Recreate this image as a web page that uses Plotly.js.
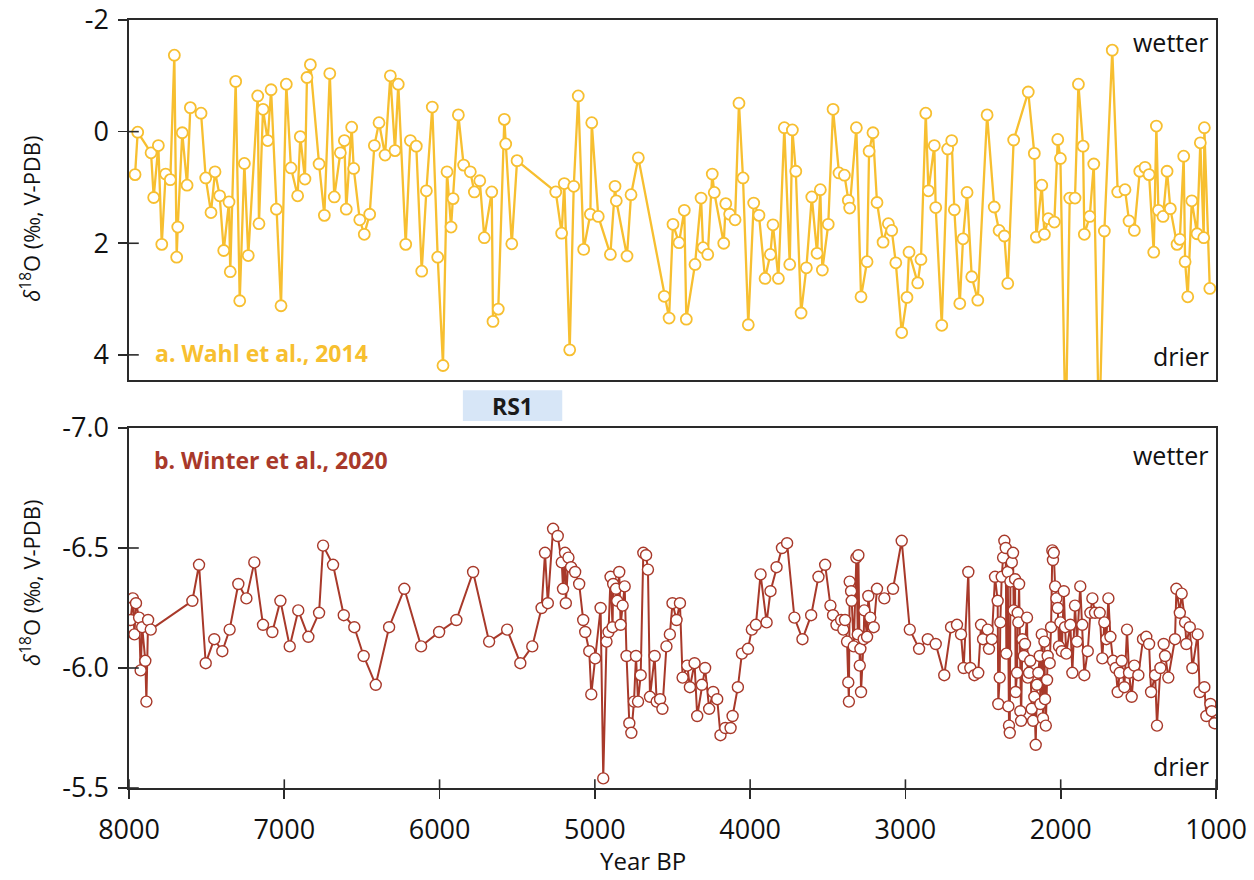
<!DOCTYPE html>
<html><head><meta charset="utf-8">
<script src="https://cdn.plot.ly/plotly-3.0.1.min.js"></script>
<style>body{margin:0;background:#fff}#chart{width:1254px;height:880px}</style>
</head><body><div id="chart"></div>
<script>
// ---- Panel a: Wahl et al., 2014 (Year BP, d18O) ----
const wahlYears = [7961,7944,7858,7841,7811,7789,7764,7734,7708,7693,7686,7657,7626,7605,7536,7506,7472,7446,7416,7390,
 7356,7348,7313,7287,7257,7232,7171,7163,7137,7107,7085,7051,7021,6987,6957,6914,6897,6867,6854,6832,
 6776,6742,6707,6678,6639,6613,6601,6566,6553,6514,6485,6450,6420,6390,6351,6317,6287,6266,6218,6188,
 6150,6115,6085,6047,6012,5978,5952,5926,5913,5879,5845,5802,5776,5741,5712,5664,5656,5622,5583,5574,
 5535,5501,5252,5214,5197,5162,5136,5107,5072,5029,5020,4978,4900,4870,4862,4793,4767,4720,4553,4522,
 4497,4458,4424,4411,4355,4316,4303,4273,4244,4231,4170,4157,4132,4097,4072,4046,4012,3977,3943,3904,
 3870,3853,3818,3780,3745,3728,3706,3672,3638,3603,3569,3548,3535,3497,3466,3428,3393,3368,3359,3316,
 3286,3247,3234,3209,3183,3144,3110,3088,3062,3024,2990,2977,2921,2900,2869,2852,2814,2805,2766,2728,
 2702,2685,2650,2629,2603,2573,2534,2474,2428,2397,2363,2341,2303,2209,2170,2157,2122,2105,2080,2041,
 2019,2002,1968,1942,1908,1886,1856,1848,1813,1787,1753,1719,1668,1633,1586,1560,1526,1491,1457,1431,
 1401,1384,1371,1341,1315,1294,1251,1233,1208,1199,1182,1156,1122,1101,1079,1075,1040];
const wahlD18O = [0.77,0.01,0.38,1.18,0.25,2.02,0.76,0.86,-1.37,2.25,1.71,0.02,0.96,-0.43,-0.33,0.83,1.45,0.72,1.15,2.13,
 1.26,2.51,-0.90,3.03,0.57,2.22,-0.64,1.65,-0.40,0.16,-0.75,1.39,3.12,-0.85,0.65,1.15,0.09,0.85,-0.97,-1.20,
 0.58,1.50,-1.04,1.17,0.38,0.16,1.39,-0.08,0.66,1.58,1.84,1.48,0.25,-0.16,0.42,-1.00,0.34,-0.85,2.02,0.16,
 0.26,2.50,1.06,-0.44,2.25,4.19,0.72,1.71,1.20,-0.30,0.60,0.72,1.08,0.88,1.90,1.08,3.40,3.18,-0.22,0.22,
 2.01,0.52,1.08,1.82,0.93,3.91,0.98,-0.64,2.11,1.48,-0.16,1.52,2.20,0.98,1.24,2.23,1.13,0.47,2.95,3.34,
 1.66,1.99,1.41,3.36,2.38,1.19,2.08,2.20,0.76,1.09,2.00,1.29,1.48,1.58,-0.51,0.83,3.46,1.28,1.50,2.63,
 2.20,1.67,2.63,-0.07,2.38,-0.03,0.71,3.25,2.44,1.17,2.18,1.04,2.48,1.66,-0.40,0.74,0.78,1.23,1.37,-0.07,
 2.96,2.33,0.35,0.02,1.27,1.98,1.65,1.77,2.35,3.60,2.97,2.16,2.71,2.29,-0.33,1.06,0.25,1.36,3.47,0.31,
 0.16,1.40,3.08,1.92,1.09,2.60,3.02,-0.30,1.35,1.77,1.87,2.72,0.15,-0.71,0.39,1.89,0.96,1.84,1.56,1.62,
 0.14,0.48,5.5,1.19,1.19,-0.85,0.26,1.84,1.52,0.58,5.5,1.78,-1.46,1.08,1.04,1.60,1.77,0.71,0.64,0.77,
 2.16,-0.10,1.41,1.52,0.71,1.38,2.02,1.93,0.44,2.33,2.96,1.24,1.83,0.20,1.90,-0.07,2.81];

// ---- Panel b: Winter et al., 2020 (Year BP, d18O) ----
const winterYears = [7990,7975,7965,7955,7935,7925,7915,7895,7888,7877,7860,7592,7549,7506,7451,7399,7352,7296,7244,7193,
 7137,7077,7025,6965,6910,6845,6776,6750,6686,6617,6549,6489,6411,6325,6227,6119,6003,5892,5784,5681,
 5565,5480,5403,5343,5321,5303,5269,5239,5213,5205,5192,5187,5170,5153,5127,5101,5075,5062,5036,5023,
 4998,4963,4946,4925,4912,4899,4886,4882,4864,4856,4843,4834,4821,4808,4796,4778,4765,4748,4735,4722,
 4705,4688,4670,4658,4645,4615,4602,4580,4565,4539,4517,4500,4474,4452,4435,4405,4388,4358,4341,4311,
 4290,4264,4238,4212,4191,4160,4126,4113,4079,4053,4014,3989,3963,3933,3894,3869,3830,3795,3762,3715,
 3663,3607,3560,3517,3483,3466,3444,3414,3400,3389,3376,3368,3364,3359,3350,3346,3333,3316,3307,3303,
 3294,3290,3286,3269,3265,3247,3239,3226,3204,3183,3136,3080,3024,2972,2912,2856,2805,2750,2706,2668,
 2642,2625,2595,2582,2556,2531,2513,2500,2470,2462,2444,2423,2406,2402,2393,2389,2380,2371,2363,2354,
 2350,2341,2337,2333,2328,2324,2315,2307,2303,2294,2290,2281,2277,2273,2268,2260,2255,2247,2238,2230,
 2217,2212,2204,2196,2187,2178,2170,2161,2153,2144,2135,2131,2122,2114,2105,2101,2096,2088,2084,2071,
 2062,2054,2050,2045,2036,2028,2019,2011,2002,1993,1980,1972,1964,1938,1925,1908,1895,1874,1861,1848,
 1826,1809,1796,1779,1749,1732,1719,1706,1693,1680,1663,1646,1633,1620,1607,1590,1573,1560,1543,1526,
 1500,1470,1449,1431,1418,1392,1380,1358,1337,1328,1307,1264,1255,1233,1221,1199,1191,1169,1152,1118,
 1105,1075,1062,1036,1027,1010];
const winterD18O = [-6.20,-6.29,-6.14,-6.27,-6.21,-5.99,-6.17,-6.03,-5.86,-6.20,-6.16,-6.28,-6.43,-6.02,-6.12,-6.07,-6.16,-6.35,-6.29,-6.44,
 -6.18,-6.15,-6.28,-6.09,-6.24,-6.13,-6.23,-6.51,-6.43,-6.22,-6.17,-6.05,-5.93,-6.17,-6.33,-6.09,-6.15,-6.20,-6.40,-6.11,
 -6.16,-6.02,-6.09,-6.25,-6.48,-6.27,-6.58,-6.55,-6.44,-6.33,-6.48,-6.27,-6.46,-6.42,-6.40,-6.35,-6.20,-6.15,-6.07,-5.89,
 -6.04,-6.25,-5.54,-6.11,-6.15,-6.38,-6.17,-6.35,-6.33,-6.28,-6.40,-6.18,-6.26,-6.34,-6.05,-5.77,-5.73,-5.86,-6.05,-5.86,
 -5.97,-6.48,-6.47,-6.41,-5.88,-6.05,-5.86,-5.87,-5.83,-6.09,-6.14,-6.27,-6.20,-6.27,-5.96,-6.01,-5.92,-6.02,-5.80,-5.93,
 -6.00,-5.83,-5.90,-5.87,-5.72,-5.75,-5.75,-5.80,-5.92,-6.06,-6.08,-6.16,-6.18,-6.39,-6.19,-6.32,-6.42,-6.50,-6.52,-6.21,
 -6.12,-6.22,-6.38,-6.43,-6.26,-6.22,-6.18,-6.20,-6.16,-6.20,-6.11,-5.94,-5.86,-6.36,-6.32,-6.28,-6.09,-6.46,-6.14,-6.47,
 -6.01,-6.08,-5.90,-6.12,-6.24,-6.13,-6.30,-6.21,-6.17,-6.33,-6.29,-6.33,-6.53,-6.16,-6.08,-6.12,-6.10,-5.97,-6.17,-6.18,
 -6.14,-6.00,-6.40,-6.00,-5.97,-5.98,-6.18,-6.12,-6.16,-6.08,-6.12,-6.38,-6.28,-5.85,-5.96,-6.19,-6.38,-6.46,-6.53,-6.50,
 -6.06,-6.40,-5.84,-5.76,-5.73,-6.36,-6.44,-6.48,-6.24,-6.37,-5.90,-5.98,-6.23,-6.19,-6.35,-5.82,-5.78,-6.12,-6.05,-6.10,
 -6.21,-5.96,-5.98,-6.03,-5.83,-5.78,-5.88,-5.68,-5.93,-5.98,-6.05,-5.85,-6.14,-5.79,-6.11,-5.87,-5.76,-5.95,-6.05,-6.02,
 -6.17,-6.49,-6.45,-6.48,-6.34,-6.29,-6.25,-6.09,-6.19,-6.07,-6.32,-6.17,-6.06,-6.18,-5.98,-6.26,-6.11,-6.34,-6.18,-5.97,
 -6.07,-6.23,-6.29,-6.23,-6.23,-6.04,-6.19,-6.12,-6.29,-6.13,-6.03,-6.00,-5.90,-5.98,-6.03,-5.92,-6.16,-5.98,-5.88,-6.01,
 -5.97,-6.12,-6.13,-6.10,-5.90,-5.97,-5.76,-6.00,-6.10,-6.05,-5.96,-6.12,-6.33,-6.23,-6.31,-6.19,-6.10,-6.17,-6.00,-6.14,
 -5.90,-5.92,-5.80,-5.85,-5.82,-5.77];

// ---- Axis ticks and labels ----
const xTickVals = [8000,7000,6000,5000,4000,3000,2000,1000];
const topYTicks = [-2,0,2,4];
const bottomYTicks = [-7.0,-6.5,-6.0,-5.5];
const rs1Span = [5850, 5210];
const panelLabels = ['a. Wahl et al., 2014', 'b. Winter et al., 2020'];
const yTitle = '<i>δ</i><sup>18</sup>O (‰, V-PDB)';
const xTitle = 'Year BP';

const YELLOW = '#F7BF30';
const RED = '#A8392A';
const AXIS = '#2a2a2a';

const traces = [
  {x: wahlYears, y: wahlD18O, xaxis:'x', yaxis:'y', type:'scatter', mode:'lines+markers',
   line:{color:YELLOW, width:2.3},
   marker:{symbol:'circle', size:11, color:'#ffffff', line:{color:YELLOW, width:1.8}},
   hoverinfo:'skip'},
  {x: winterYears, y: winterD18O, xaxis:'x2', yaxis:'y2', type:'scatter', mode:'lines+markers',
   line:{color:RED, width:2},
   marker:{symbol:'circle', size:11, color:'#ffffff', line:{color:RED, width:1.4}},
   hoverinfo:'skip'}
];

const tickFont = {family:'Open Sans, sans-serif', size:27, color:'#111'};
const baseAxis = {showline:true, mirror:true, linecolor:AXIS, linewidth:1.6, showgrid:false, zeroline:false,
  tickcolor:AXIS, tickwidth:1.6, tickfont:tickFont};

const shapes = [];
// inner halves of crossing tick marks, built from the tick arrays
xTickVals.forEach(v => shapes.push({type:'line', xref:'x2', yref:'y2 domain', x0:v, x1:v, y0:0, y1:0.024,
  line:{color:AXIS, width:1.6}}));
topYTicks.slice(1).forEach(v => shapes.push({type:'line', xref:'x domain', yref:'y', x0:0, x1:0.009, y0:v, y1:v,
  line:{color:AXIS, width:1.6}}));
bottomYTicks.slice(1).forEach(v => shapes.push({type:'line', xref:'x2 domain', yref:'y2', x0:0, x1:0.009, y0:v, y1:v,
  line:{color:AXIS, width:1.6}}));
// RS1 band between panels
shapes.push({type:'rect', xref:'x2', yref:'paper', x0:rs1Span[0], x1:rs1Span[1], y0:0.478, y1:0.518,
  fillcolor:'#D7E6F7', line:{width:0}, layer:'below'});

const annFont = (size, color, bold) => ({family:'Open Sans, sans-serif', size:size, color:color, weight: bold ? 700 : 400});
const annotations = [
  {xref:'paper', yref:'paper', x:-0.0902, y:0.741, text:yTitle, textangle:-90, showarrow:false,
   xanchor:'center', yanchor:'middle', font:annFont(22,'#111')},
  {xref:'paper', yref:'paper', x:-0.0902, y:0.267, text:yTitle, textangle:-90, showarrow:false,
   xanchor:'center', yanchor:'middle', font:annFont(22,'#111')},
  {xref:'paper', yref:'paper', x:0.473, y:-0.094, text:xTitle, showarrow:false,
   xanchor:'center', yanchor:'middle', font:annFont(24,'#111')},
  {xref:'paper', yref:'paper', x:0.022, y:0.566, text:'<b>'+panelLabels[0]+'</b>', showarrow:false,
   xanchor:'left', yanchor:'middle', font:annFont(23,YELLOW,true)},
  {xref:'paper', yref:'paper', x:0.021, y:0.427, text:'<b>'+panelLabels[1]+'</b>', showarrow:false,
   xanchor:'left', yanchor:'middle', font:annFont(23,RED,true)},
  {xref:'paper', yref:'paper', x:0.995, y:0.972, text:'wetter', showarrow:false, xanchor:'right', yanchor:'middle', font:annFont(25,'#111')},
  {xref:'paper', yref:'paper', x:0.995, y:0.563, text:'drier', showarrow:false, xanchor:'right', yanchor:'middle', font:annFont(25,'#111')},
  {xref:'paper', yref:'paper', x:0.995, y:0.434, text:'wetter', showarrow:false, xanchor:'right', yanchor:'middle', font:annFont(25,'#111')},
  {xref:'paper', yref:'paper', x:0.995, y:0.029, text:'drier', showarrow:false, xanchor:'right', yanchor:'middle', font:annFont(25,'#111')},
  {xref:'x2', yref:'paper', x:(rs1Span[0]+rs1Span[1])/2, y:0.498, text:'<b>RS1</b>', showarrow:false,
   xanchor:'center', yanchor:'middle', font:annFont(23,'#1a1a1a',true)}
];

const layout = {
  width:1254, height:880,
  margin:{l:129, r:38, t:20, b:92},
  paper_bgcolor:'#ffffff', plot_bgcolor:'#ffffff',
  showlegend:false,
  font:{family:'Open Sans, sans-serif', color:'#111'},
  xaxis: Object.assign({}, baseAxis, {domain:[0,1], anchor:'y', range:[8000,1000], ticks:'', showticklabels:false}),
  yaxis: Object.assign({}, baseAxis, {domain:[0.53125,1], anchor:'x', range:[4.45,-2], tickmode:'array',
    tickvals:topYTicks, ticktext:topYTicks.map(v => String(v)), ticks:'outside', ticklen:9, ticklabelstandoff:4}),
  xaxis2: Object.assign({}, baseAxis, {domain:[0,1], anchor:'y2', range:[8000,1000], tickmode:'array',
    tickvals:xTickVals, ticktext:xTickVals.map(v => String(v)), ticks:'outside', ticklen:9, ticklabelstandoff:8}),
  yaxis2: Object.assign({}, baseAxis, {domain:[0,0.46875], anchor:'x2', range:[-5.5,-7.0], tickmode:'array',
    tickvals:bottomYTicks, ticktext:bottomYTicks.map(v => v.toFixed(1)), ticks:'outside', ticklen:9, ticklabelstandoff:4}),
  shapes: shapes,
  annotations: annotations
};

Plotly.newPlot('chart', traces, layout, {displayModeBar:false, staticPlot:true});
</script>
</body></html>
